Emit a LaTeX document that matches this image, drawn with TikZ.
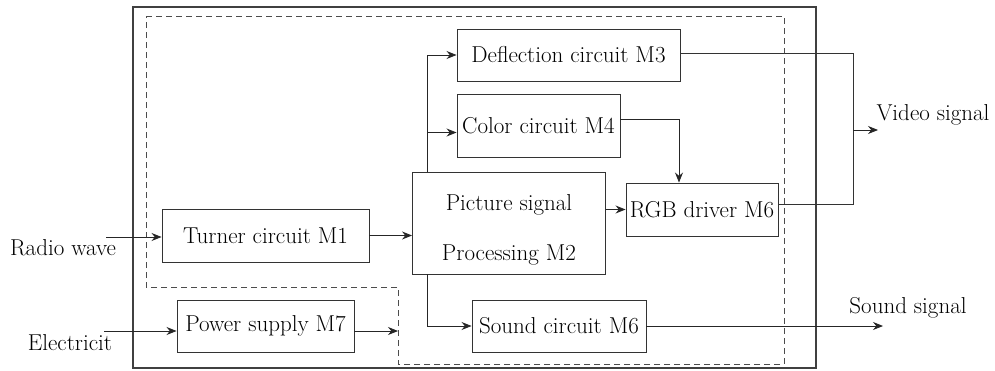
\documentclass[tikz,border=0pt]{standalone}
\usetikzlibrary{shapes.geometric, arrows.meta}
\tikzstyle{recNode} = [rectangle, minimum height=53pt, inner sep=2pt, text centered, draw=black!80, line width=0.9pt]
\tikzstyle{eNode} = [inner sep=0pt, text centered, text=black]
\tikzstyle{line} = [line width=0.9pt, draw=black!80]
\tikzstyle{arrow} = [line width=0.9pt, ->, >={Stealth[length=10pt, width=8pt]}, draw=black!85]
\tikzstyle{frame} = [line width=1.1pt, draw=black!75]
\tikzstyle{dashframe} = [line width=1pt, draw=black!70, dash pattern=on 6pt off 4pt]
\begin{document}
\begin{tikzpicture}[x=1pt, y=-1pt, node distance=100pt, font=\fontsize{23}{27.6}\selectfont]
        \useasboundingbox (0,0) rectangle (995,370);
        % outer frame and dashed module
        \draw [frame] (133,7) rectangle (816,368);
        \draw [dashframe] (146,16) -- (784,16) -- (784,364) -- (398,364) -- (398,287) -- (146,287) -- cycle;

        \node (turner) [recNode, minimum width=207pt] at (265.5,235.5) {Turner circuit M1};
        \node (picture) [recNode, minimum width=193pt, minimum height=102pt, align=center, right of=turner, xshift=143.5pt, yshift=12.5pt] {\rule{0pt}{30pt}Picture signal\\[22pt]Processing M2};
        \node (rgb) [recNode, minimum width=152pt, right of=picture, xshift=93pt, yshift=13.5pt] {RGB driver M6};
        \node (color) [recNode, minimum width=163pt, minimum height=63pt, above of=picture, xshift=29.5pt, yshift=-2.5pt] {Color circuit M4};
        \node (deflection) [recNode, minimum width=223pt, minimum height=52pt, above of=color, xshift=30pt, yshift=-29.5pt] {Deflection circuit M3};
        \node (power) [recNode, minimum width=177pt, minimum height=52pt, below of=turner, yshift=9.5pt] {Power supply M7};
        \node (sound) [recNode, minimum width=174pt, minimum height=52pt, right of=power, xshift=193.5pt] {Sound circuit M6};

        \node (radio) [eNode, left of=turner, xshift=-102.5pt, yshift=-12.5pt] {Radio wave};
        \node (elec) [eNode, left of=power, xshift=-95.5pt, yshift=-17pt] {Electricit};
        \node (video) [eNode, right of=rgb, xshift=131pt, yshift=94.5pt] {Video signal};
        \node (soundsig) [eNode, right of=sound, xshift=249pt, yshift=18pt] {Sound signal};

        \coordinate (radioin) at (106,237);
        \coordinate (elecin) at (104,331);
        \coordinate (powerout) at (398,331);
        \coordinate (videobus) at (853,130);
        \coordinate (videoout) at (878,130);
        \coordinate (soundout) at (883,326);

        \draw [arrow] (radioin) -- (radioin -| turner.west);
        \draw [arrow] (turner.east) -- (turner.east -| picture.west);
        \draw [arrow] (elecin) -- (elecin -| power.west);
        \draw [arrow] (power.east |- powerout) -- (powerout);
        \draw [arrow] (picture.east |- rgb.west) -- (rgb.west);
        \draw [arrow] ([xshift=15pt]picture.north west) |- (deflection.west);
        \draw [arrow] ([xshift=15pt]picture.north west) |- ([yshift=-7pt]color.west);
        \draw [arrow] ([xshift=15pt]picture.south west) |- (sound.west);
        \draw [arrow] ([yshift=6pt]color.east) -| ([xshift=-23pt]rgb.north);
        \draw [line] ([yshift=2pt]deflection.east) -| (videobus) |- ([yshift=5.5pt]rgb.east);
        \draw [arrow] (videobus) -- (videoout);
        \draw [arrow] (sound.east) -- (soundout);
    \end{tikzpicture}
\end{document}
